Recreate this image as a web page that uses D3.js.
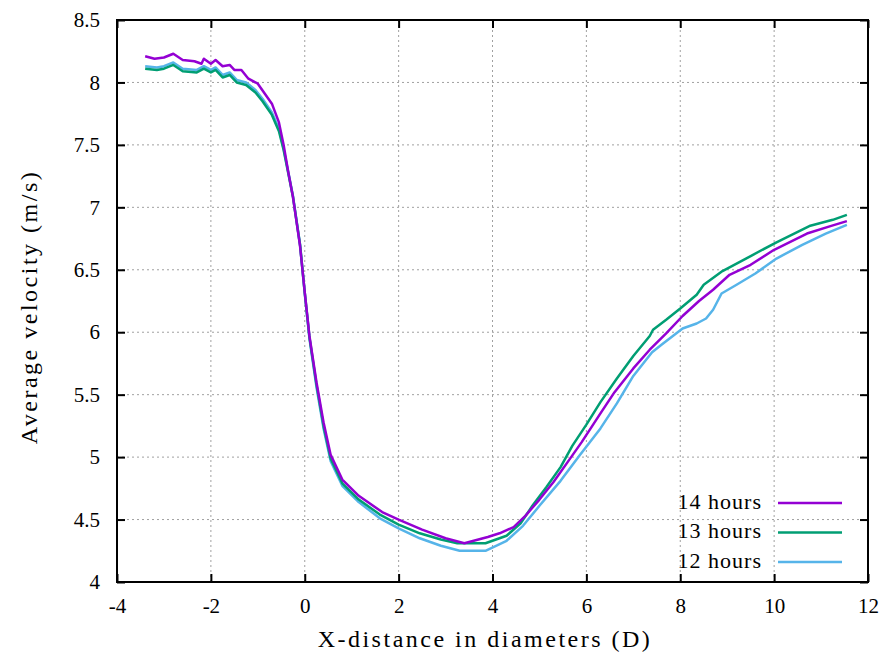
<!DOCTYPE html>
<html>
<head>
<meta charset="utf-8">
<script src="https://cdn.jsdelivr.net/npm/d3@7"></script>
<style>
  body { margin: 0; background: #fff; }
</style>
</head>
<body>
<svg id="chart"></svg>
<script>
// --- data ---
const xTicks = [-4, -2, 0, 2, 4, 6, 8, 10, 12];
const yTicks = [4, 4.5, 5, 5.5, 6, 6.5, 7, 7.5, 8, 8.5];

const x14 = [-3.4, -3.2, -3.0, -2.8, -2.6, -2.35, -2.2, -2.15, -2.0, -1.9, -1.75, -1.6, -1.5, -1.35, -1.2, -1.0, -0.85, -0.7, -0.55, -0.45, -0.35, -0.25, -0.1, 0, 0.1, 0.25, 0.4, 0.55, 0.8, 1.15, 1.65, 2.0, 2.5, 3.0, 3.4, 3.6, 3.9, 4.15, 4.45, 4.7, 5.0, 5.3, 5.6, 5.9, 6.3, 6.6, 7.0, 7.35, 7.7, 8.05, 8.4, 8.7, 9.05, 9.5, 10.0, 10.7, 11.2, 11.55];
const v14 = [8.21, 8.19, 8.20, 8.23, 8.18, 8.17, 8.15, 8.19, 8.15, 8.18, 8.13, 8.14, 8.10, 8.10, 8.03, 7.99, 7.91, 7.83, 7.68, 7.50, 7.28, 7.08, 6.69, 6.32, 5.97, 5.60, 5.28, 5.02, 4.82, 4.69, 4.56, 4.50, 4.42, 4.35, 4.31, 4.33, 4.36, 4.39, 4.44, 4.53, 4.66, 4.80, 4.96, 5.12, 5.35, 5.52, 5.71, 5.86, 5.99, 6.13, 6.25, 6.34, 6.46, 6.54, 6.66, 6.79, 6.85, 6.89];

const x13 = [-3.4, -3.15, -3.0, -2.8, -2.6, -2.3, -2.15, -2.0, -1.9, -1.75, -1.6, -1.45, -1.25, -1.05, -0.9, -0.7, -0.55, -0.45, -0.35, -0.25, -0.1, 0, 0.1, 0.25, 0.4, 0.55, 0.8, 1.15, 1.6, 2.0, 2.45, 2.9, 3.25, 3.85, 4.3, 4.6, 4.85, 5.15, 5.45, 5.7, 6.0, 6.3, 6.65, 7.0, 7.35, 7.42, 7.7, 8.0, 8.35, 8.5, 8.9, 9.5, 10.05, 10.75, 11.25, 11.55];
const v13 = [8.11, 8.10, 8.11, 8.14, 8.09, 8.08, 8.11, 8.08, 8.10, 8.04, 8.06, 8.00, 7.98, 7.92, 7.85, 7.74, 7.61, 7.46, 7.27, 7.08, 6.70, 6.32, 5.96, 5.58, 5.25, 4.99, 4.79, 4.66, 4.54, 4.46, 4.39, 4.34, 4.31, 4.31, 4.37, 4.47, 4.61, 4.76, 4.92, 5.09, 5.26, 5.44, 5.63, 5.81, 5.97, 6.02, 6.10, 6.19, 6.30, 6.38, 6.49, 6.61, 6.72, 6.85, 6.90, 6.94];

const x12 = [-3.4, -3.15, -3.0, -2.8, -2.6, -2.3, -2.15, -2.0, -1.9, -1.75, -1.6, -1.45, -1.25, -1.05, -0.9, -0.7, -0.55, -0.45, -0.35, -0.25, -0.1, 0, 0.1, 0.25, 0.4, 0.55, 0.8, 1.15, 1.6, 2.0, 2.45, 2.9, 3.3, 3.85, 4.3, 4.65, 5.0, 5.45, 5.85, 6.3, 6.65, 7.0, 7.4, 7.6, 8.05, 8.35, 8.55, 8.7, 8.88, 9.2, 9.6, 10.05, 10.6, 11.1, 11.55];
const v12 = [8.13, 8.12, 8.13, 8.16, 8.11, 8.10, 8.13, 8.10, 8.12, 8.06, 8.08, 8.02, 8.00, 7.94, 7.87, 7.76, 7.63, 7.47, 7.28, 7.09, 6.70, 6.31, 5.95, 5.56, 5.23, 4.97, 4.77, 4.64, 4.51, 4.43, 4.35, 4.29, 4.25, 4.25, 4.33, 4.45, 4.61, 4.81, 5.01, 5.23, 5.43, 5.65, 5.84, 5.90, 6.03, 6.07, 6.11, 6.18, 6.31, 6.38, 6.47, 6.59, 6.70, 6.79, 6.86];

const seriesNames = ["14 hours", "13 hours", "12 hours"];
const seriesColors = ["#9400d3", "#009e73", "#56b4e9"];

const W = 881, H = 660;
const margin = { left: 117, right: 13, top: 20, bottom: 78 };
const fontName = '"Liberation Serif"';

let svg = d3.select("#chart").attr("width", W).attr("height", H);

let x = d3.scaleLinear().domain([-4, 12]).range([margin.left, W - margin.right]);
let y = d3.scaleLinear().domain([4, 8.5]).range([H - margin.bottom, margin.top]);

// grid
let grid = svg.append("g");
grid.selectAll(".gx").data(xTicks.slice(1, -1)).enter().append("line")
    .attr("x1", d => x(d)).attr("x2", d => x(d))
    .attr("y1", y(4)).attr("y2", y(8.5))
    .style("stroke", "#a0a0a0").style("stroke-width", 1).style("stroke-dasharray", "2,3");
grid.selectAll(".gy").data(yTicks.slice(1, -1)).enter().append("line")
    .attr("x1", x(-4)).attr("x2", x(12))
    .attr("y1", d => y(d)).attr("y2", d => y(d))
    .style("stroke", "#a0a0a0").style("stroke-width", 1).style("stroke-dasharray", "2,3");

// axes (ticks pointing inward, mirrored)
let fmt = d => String(d);
svg.append("g").attr("transform", `translate(0,${y(4)})`)
    .call(d3.axisBottom(x).tickValues(xTicks).tickSize(-8).tickPadding(16).tickFormat(fmt))
    .call(g => g.select(".domain").remove());
svg.append("g").attr("transform", `translate(0,${y(8.5)})`)
    .call(d3.axisTop(x).tickValues(xTicks).tickSize(-8).tickFormat(""))
    .call(g => g.select(".domain").remove());
svg.append("g").attr("transform", `translate(${x(-4)},0)`)
    .call(d3.axisLeft(y).tickValues(yTicks).tickSize(-8).tickPadding(17).tickFormat(fmt))
    .call(g => g.select(".domain").remove());
svg.append("g").attr("transform", `translate(${x(12)},0)`)
    .call(d3.axisRight(y).tickValues(yTicks).tickSize(-8).tickFormat(""))
    .call(g => g.select(".domain").remove());

svg.selectAll(".tick line").style("stroke", "#000").style("stroke-width", 2);
svg.selectAll("g").attr("font-family", null);
svg.selectAll(".tick text").style("font-family", fontName).style("font-size", "21px").style("fill", "#000");

// series
const seriesData = [
    d3.zip(x14, v14),
    d3.zip(x13, v13),
    d3.zip(x12, v12)
];
const line = d3.line().x(d => x(d[0])).y(d => y(d[1]));
// draw 12h first so 14h ends on top, like the picture
[2, 1, 0].forEach(i => {
    svg.append("path").attr("d", line(seriesData[i]))
        .attr("fill", "none").attr("stroke", seriesColors[i])
        .attr("stroke-width", 2.5).attr("stroke-linejoin", "round");
});

// frame
svg.append("rect")
    .attr("x", x(-4)).attr("y", y(8.5))
    .attr("width", x(12) - x(-4)).attr("height", y(4) - y(8.5))
    .style("fill", "none").style("stroke", "#000").style("stroke-width", 2);

// legend
let legend = svg.append("g");
seriesNames.forEach((name, i) => {
    let ly = 503 + i * 29.5;
    legend.append("text").attr("x", 762).attr("y", ly).attr("dy", "0.25em")
        .attr("text-anchor", "end").style("font-family", fontName)
        .style("font-size", "22px").style("letter-spacing", "1px").text(name);
    legend.append("line").attr("x1", 778).attr("x2", 842).attr("y1", ly).attr("y2", ly)
        .style("stroke", seriesColors[i]).style("stroke-width", 2.5);
});

// axis titles
svg.append("text").attr("x", 485).attr("y", 647).attr("text-anchor", "middle")
    .style("font-family", fontName).style("font-size", "24px").style("letter-spacing", "2.5px")
    .text("X-distance in diameters (D)");
svg.append("text").attr("transform", "translate(37,307) rotate(-90)")
    .attr("text-anchor", "middle").style("font-family", fontName).style("font-size", "24px")
    .style("letter-spacing", "2.5px")
    .text("Average velocity (m/s)");
</script>
</body>
</html>
